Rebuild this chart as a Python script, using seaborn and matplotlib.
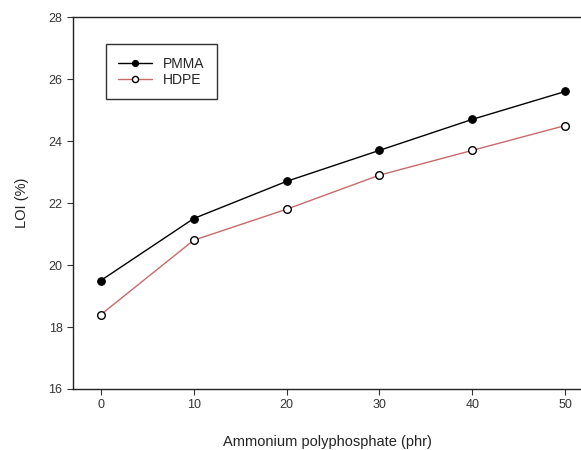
import pandas as pd
import matplotlib.pyplot as plt
import seaborn as sns

# data
app_phr = [0, 10, 20, 30, 40, 50]
loi_pmma = [19.5, 21.5, 22.7, 23.7, 24.7, 25.6]
loi_hdpe = [18.4, 20.8, 21.8, 22.9, 23.7, 24.5]

df = pd.DataFrame({
    "APP": app_phr * 2,
    "LOI": loi_pmma + loi_hdpe,
    "Polymer": ["PMMA"] * 6 + ["HDPE"] * 6,
})

sns.set_style("ticks")
plt.rcParams["font.family"] = ["Liberation Sans", "DejaVu Sans"]

fig = plt.figure(figsize=(5.81, 4.5), dpi=100)
ax = fig.add_axes([0.1256, 0.1356, 0.8744, 0.8264])

sns.lineplot(data=df[df.Polymer == "PMMA"], x="APP", y="LOI", ax=ax,
             color="black", lw=1.0, marker="o", markersize=5.5,
             markerfacecolor="black", markeredgecolor="black", label="PMMA")
sns.lineplot(data=df[df.Polymer == "HDPE"], x="APP", y="LOI", ax=ax,
             color="#c86a6a", lw=1.0, marker="o", markersize=5.5,
             markerfacecolor="white", markeredgecolor="black", markeredgewidth=1.0,
             label="HDPE")

ax.set_xlim(-3, 51.7)
ax.set_ylim(16, 28)
ax.set_xticks(app_phr)
ax.set_yticks([16, 18, 20, 22, 24, 26, 28])
ax.tick_params(direction="out", length=4, width=0.8, labelsize=9, colors="#333333")
ax.spines["right"].set_visible(False)
for s in ["left", "bottom", "top"]:
    ax.spines[s].set_linewidth(1.0)
    ax.spines[s].set_color("#222222")

ax.set_xlabel("Ammonium polyphosphate (phr)", fontsize=10.5, labelpad=17, color="#222222")
ax.set_ylabel("LOI (%)", fontsize=10.5, labelpad=14, color="#222222")

leg = ax.legend(loc="upper left", bbox_to_anchor=(0.065, 0.927), borderaxespad=0,
                frameon=True, fancybox=False, edgecolor="black", fontsize=10,
                handlelength=2.4, borderpad=0.9, labelspacing=0.15, markerscale=0.8)
leg.get_frame().set_linewidth(1.0)

plt.savefig("out.png", dpi=100)
